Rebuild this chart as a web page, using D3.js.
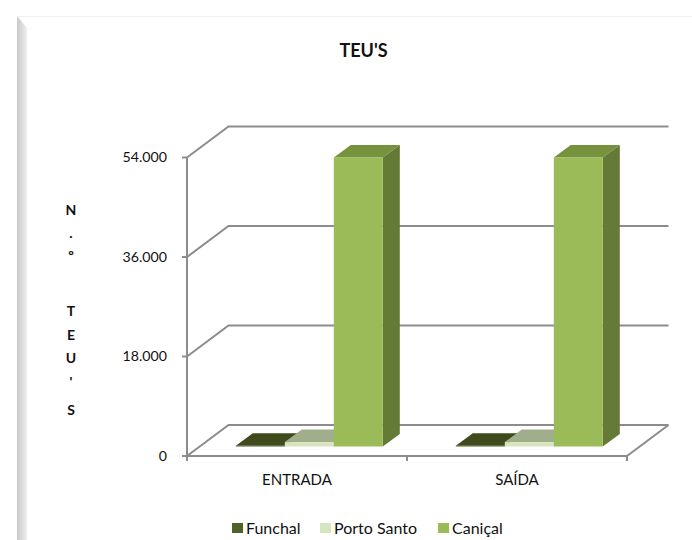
<!DOCTYPE html>
<html>
<head>
<meta charset="UTF-8">
<title>TEU'S</title>
<script src="https://d3js.org/d3.v7.min.js"></script>
<style>
body { margin: 0; background: #fff; }
svg { display: block; }
text { font-family: Lato, "Open Sans", sans-serif; fill: #111; }
</style>
</head>
<body>
<div id="chart"></div>
<script>
const categories = ["ENTRADA", "SAÍDA"];
const seriesNames = ["Funchal", "Porto Santo", "Caniçal"];
const funchal = [150, 150];
const portoSanto = [800, 800];
const canical = [52300, 52300];
const yTicks = [0, 18000, 36000, 54000];
const yTickLabels = ["0", "18.000", "36.000", "54.000"];
const yTitleChars = ["N", ".", "º", "T", "E", "U", "'", "S"];

const seriesValues = [funchal, portoSanto, canical];
const colors = [
  { front: "#4f6228", top: "#3f4a1d", side: "#3b491e" },
  { front: "#d7e4bd", top: "#a1ae8c", side: "#a1ae8c" },
  { front: "#9bbb59", top: "#76923c", side: "#647a36" }
];

const width = 692, height = 540;
const svg = d3.select("#chart").append("svg").attr("width", width).attr("height", height);

// bordure en biseau a gauche
const defs = svg.append("defs");
const grad = defs.append("linearGradient").attr("id", "bevel");
grad.append("stop").attr("offset", "0").attr("stop-color", "#c9c9c9");
grad.append("stop").attr("offset", "1").attr("stop-color", "#efefef");
svg.append("path").attr("d", "M17,16 L27,28 L27,540 L17,540 Z").attr("fill", "url(#bevel)");
svg.append("line").attr("x1", 17).attr("x2", 692).attr("y1", 16.5).attr("y2", 16.5)
  .attr("stroke", "#efefef");

const x = d3.scaleBand().domain(categories).range([187, 627]);
const y = d3.scaleLinear().domain([0, 54000]).range([456, 157.5]);

// profondeur du mur et des barres
const wallDx = 41.5, wallDy = -31;
const barShiftX = 12.3, barShiftY = -9.5, barDx = 17, barDy = -12.5;
const barW = 49;

const gridColor = "#8c8c8c";
const line = d3.line();

const grid = svg.append("g").attr("fill", "none").attr("stroke", gridColor).attr("stroke-width", 2);
yTicks.forEach(t => {
  grid.append("path").attr("d", line([
    [x.range()[0], y(t)],
    [x.range()[0] + wallDx, y(t) + wallDy],
    [x.range()[1] + wallDx, y(t) + wallDy]
  ]));
});
// sol
grid.append("path").attr("d", line([
  [x.range()[1], y(0)],
  [x.range()[1] + wallDx, y(0) + wallDy]
]));
// axes
grid.append("path").attr("d", line([[x.range()[0], y(54000)], [x.range()[0], y(0)], [x.range()[1], y(0)]]));
yTicks.forEach(t => {
  grid.append("path").attr("d", line([[x.range()[0] - 5, y(t)], [x.range()[0], y(t)]]));
});
[x.range()[0], x.range()[0] + x.bandwidth(), x.range()[1]].forEach(v => {
  grid.append("path").attr("d", line([[v, y(0)], [v, y(0) + 5]]));
});

yTicks.forEach((t, i) => {
  svg.append("text").attr("x", 167).attr("y", y(t)).attr("dy", "0.35em")
    .attr("text-anchor", "end").attr("font-size", 14.2).text(yTickLabels[i]);
});

categories.forEach((c, ci) => {
  const cx = x(c) + x.bandwidth() / 2;
  svg.append("text").attr("x", cx).attr("y", 485).attr("text-anchor", "middle")
    .attr("font-size", 15).text(c);

  seriesValues.forEach((vals, si) => {
    const x0 = cx + barShiftX + (si - 1.5) * barW;
    const x1 = x0 + barW;
    const y0 = y(0) + barShiftY;
    const yt = y(vals[ci]) + barShiftY;
    const g = svg.append("g");
    g.append("polygon").attr("fill", colors[si].side).attr("points", [
      [x1, y0], [x1 + barDx, y0 + barDy], [x1 + barDx, yt + barDy], [x1, yt]
    ].join(" "));
    g.append("polygon").attr("fill", colors[si].top).attr("points", [
      [x0, yt], [x1, yt], [x1 + barDx, yt + barDy], [x0 + barDx, yt + barDy]
    ].join(" "));
    g.append("rect").attr("x", x0).attr("y", yt).attr("width", barW).attr("height", y0 - yt)
      .attr("fill", colors[si].front);
  });
});

svg.append("text").attr("x", 363.5).attr("y", 57).attr("text-anchor", "middle")
  .attr("font-size", 18).attr("font-weight", "bold").text("TEU'S");

// titre vertical, lettre par lettre
const yTitlePos = [210, 233, 256, 311, 335, 358, 382, 410];
yTitleChars.forEach((ch, i) => {
  svg.append("text").attr("x", 71).attr("y", yTitlePos[i]).attr("dy", "0.35em")
    .attr("text-anchor", "middle").attr("font-size", 14).attr("font-weight", "bold").text(ch);
});

const legendX = [232, 320, 438];
seriesNames.forEach((n, i) => {
  svg.append("rect").attr("x", legendX[i]).attr("y", 523).attr("width", 11).attr("height", 10)
    .attr("fill", colors[i].front);
  svg.append("text").attr("x", legendX[i] + 14).attr("y", 534).attr("font-size", 16).text(n);
});
</script>
</body>
</html>
